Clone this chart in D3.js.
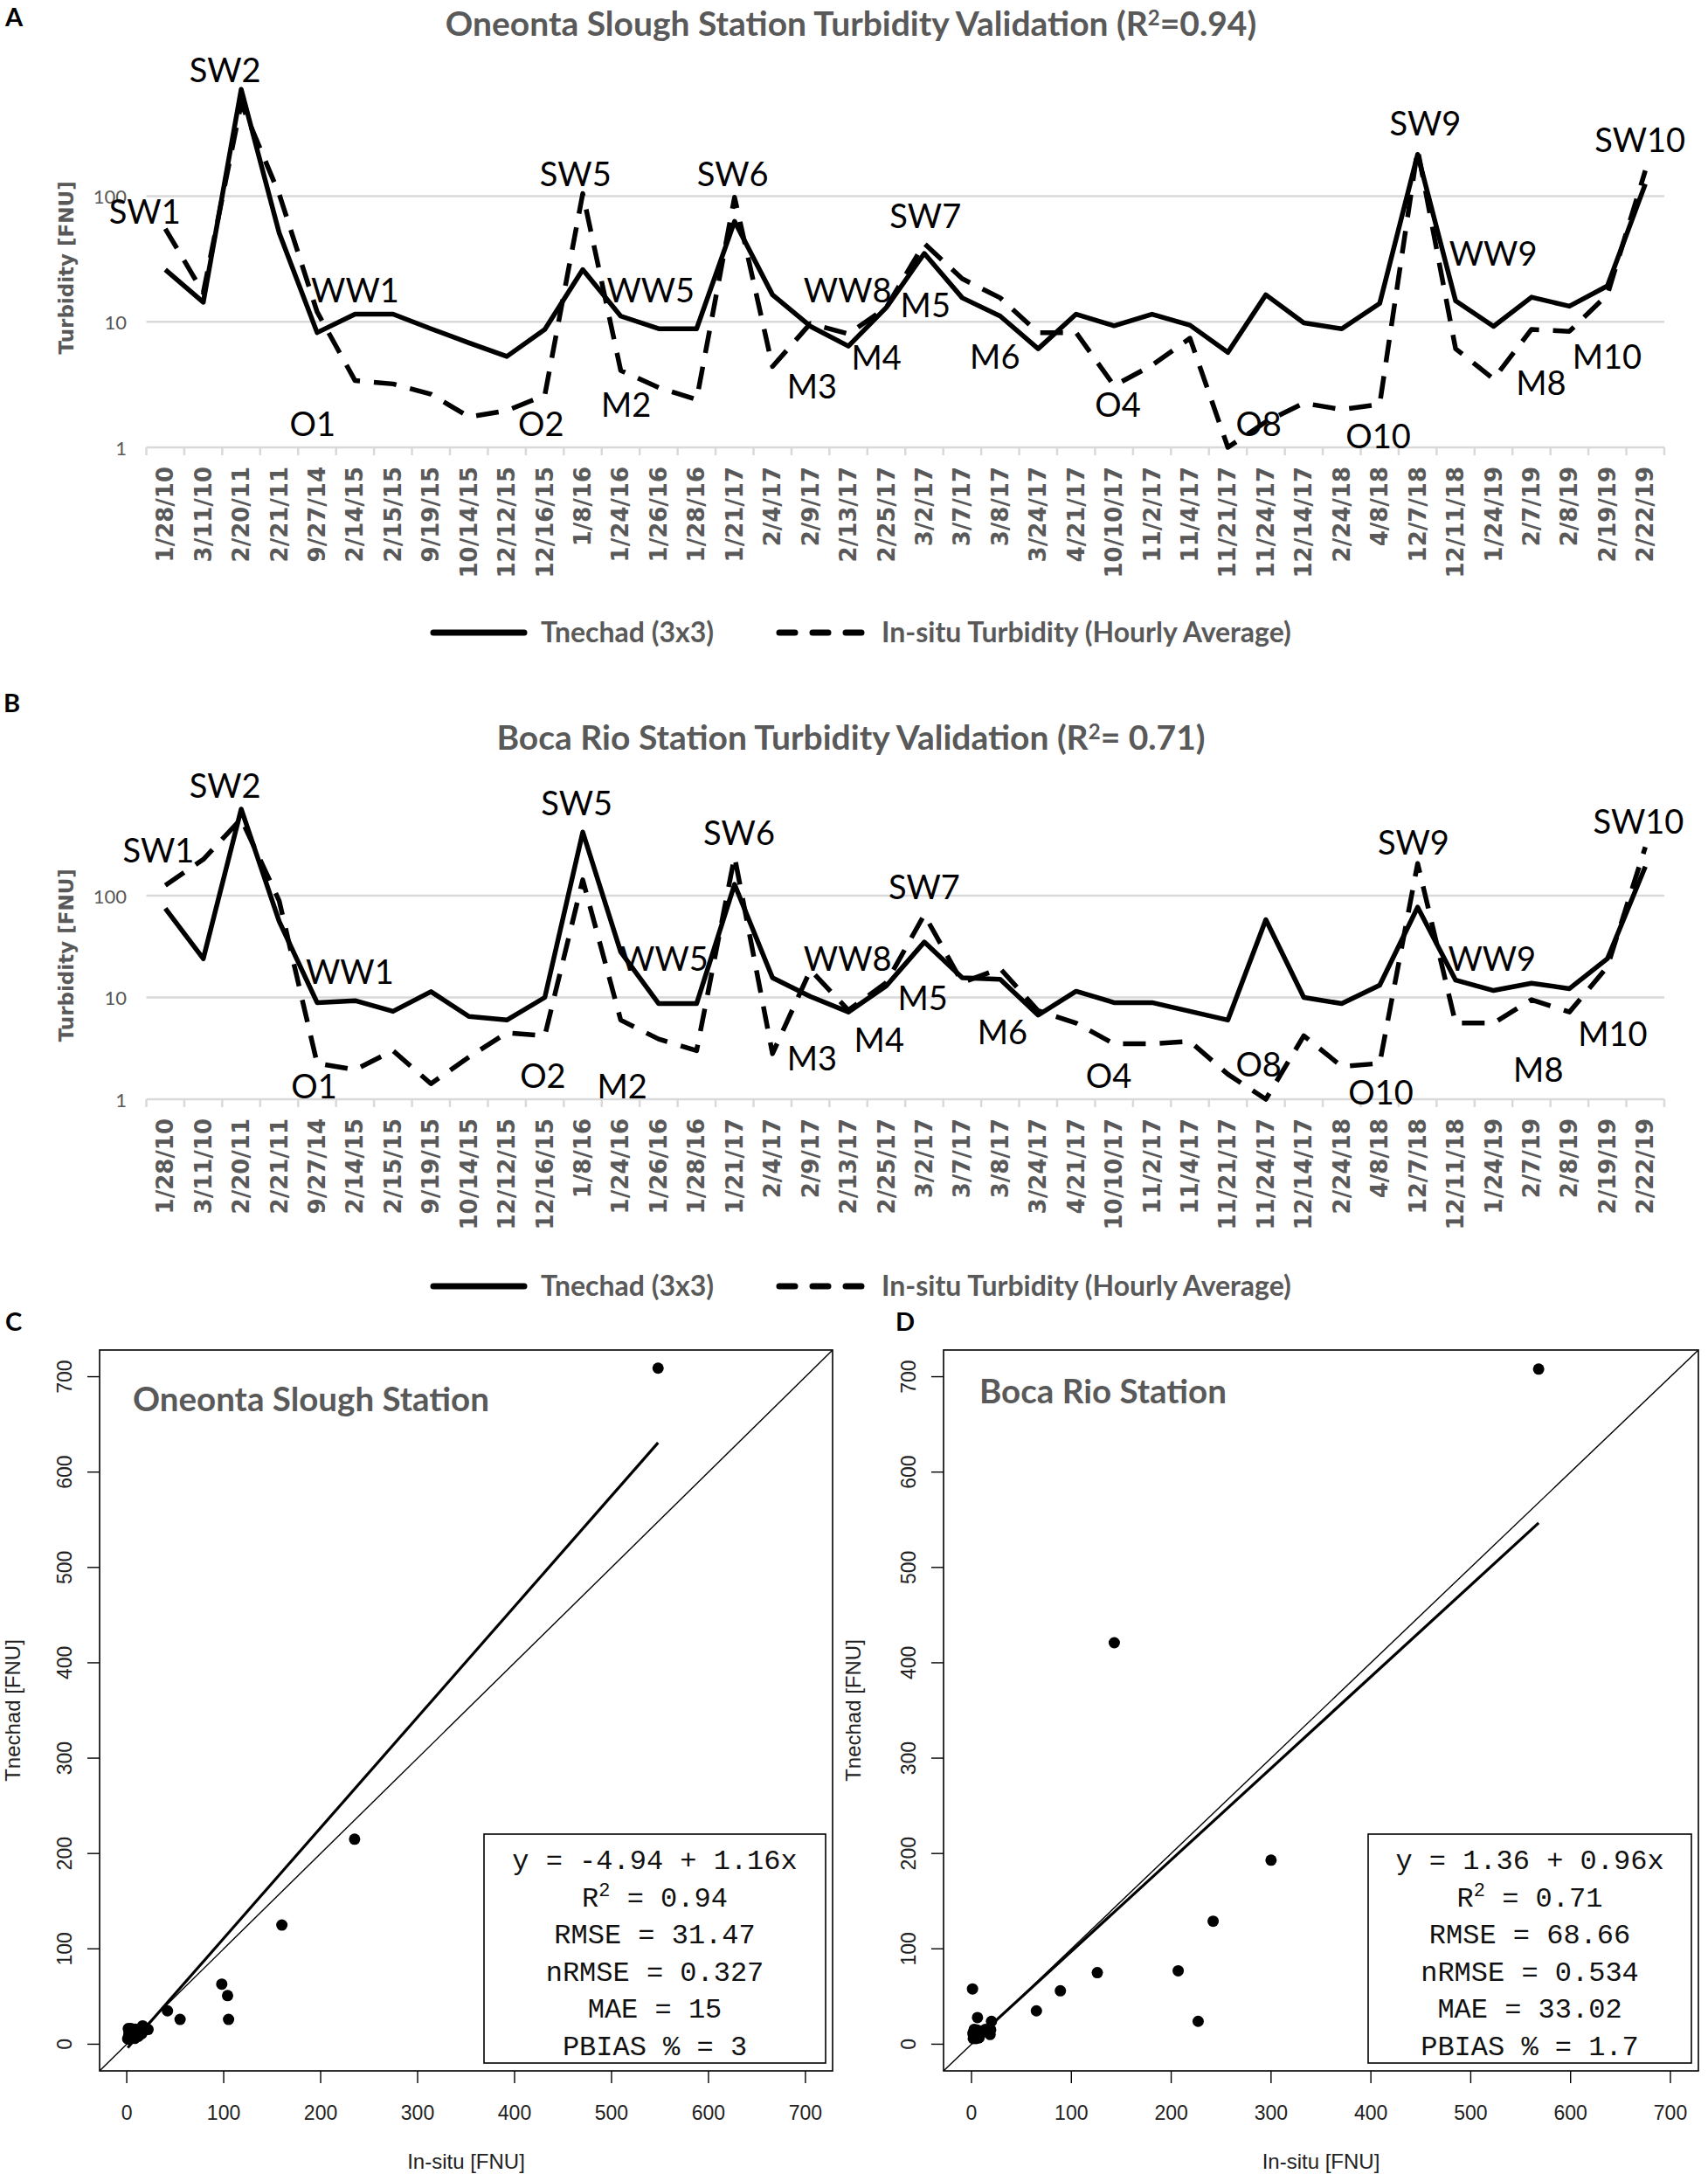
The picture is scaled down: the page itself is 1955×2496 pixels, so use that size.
<!DOCTYPE html>
<html>
<head>
<meta charset="utf-8">
<script src="https://cdn.jsdelivr.net/npm/d3@7"></script>
<style>
  body { margin: 0; background: #fff; }
</style>
</head>
<body>
<svg></svg>
<script>
// sampling dates shared by both stations
const dates = ["1/28/10","3/11/10","2/20/11","2/21/11","9/27/14","2/14/15","2/15/15","9/19/15","10/14/15","12/12/15",
  "12/16/15","1/8/16","1/24/16","1/26/16","1/28/16","1/21/17","2/4/17","2/9/17","2/13/17","2/25/17",
  "3/2/17","3/7/17","3/8/17","3/24/17","4/21/17","10/10/17","11/2/17","11/4/17","11/21/17","11/24/17",
  "12/14/17","2/24/18","4/8/18","12/7/18","12/11/18","1/24/19","2/7/19","2/8/19","2/19/19","2/22/19"];

// Oneonta Slough station
const oneontaTnechad = [26, 14.3, 709, 51, 8.2, 11.5, 11.5, 8.8, 6.8, 5.3,
  8.7, 26, 11.1, 8.8, 8.8, 63, 16.4, 9.2, 6.4, 13,
  35, 15.5, 11.1, 6.1, 11.5, 9.3, 11.5, 9.4, 5.7, 16.4,
  9.8, 8.8, 14, 215, 14.7, 9.2, 15.7, 13.3, 19.3, 125];
const oneontaInsitu = [55, 17, 548, 104, 12, 3.4, 3.2, 2.65, 1.75, 1.96,
  2.6, 105, 4.1, 3.0, 2.4, 98, 4.4, 9.7, 8, 13,
  42, 22, 15.5, 8.2, 8.2, 3.1, 4.5, 7.4, 1.0, 1.6,
  2.25, 2.0, 2.2, 235, 6.1, 3.5, 8.7, 8.4, 16.4, 160];

// Boca Rio station
const bocaTnechad = [75, 24, 708, 56, 8.9, 9.3, 7.3, 11.4, 6.5, 6.0,
  10, 421, 28, 8.7, 8.7, 129, 15.6, 10.2, 7.2, 13,
  35, 15.6, 15.1, 6.7, 11.5, 8.9, 8.9, 7.3, 6.0, 58,
  10, 8.7, 13.2, 77, 14.8, 11.7, 13.8, 12.2, 24, 193];
const bocaInsitu = [126, 227, 568, 89, 2.25, 1.95, 3.0, 1.42, 2.6, 4.5,
  4.2, 143, 6, 3.9, 3.0, 242, 2.8, 18.6, 7.5, 14,
  65, 14, 19.2, 7.4, 5.6, 3.5, 3.5, 3.7, 1.76, 1.0,
  4.2, 2.1, 2.25, 207, 5.6, 5.6, 9.5, 7.2, 20, 300];

// event labels: [text, date index, turbidity]
const oneontaLabels = [["SW1", -0.54, 74.6], ["SW2", 1.575, 997], ["WW1", 5.0, 17.8], ["O1", 3.88, 1.53],
  ["SW5", 10.81, 150], ["O2", 9.9, 1.53], ["WW5", 12.79, 17.8], ["M2", 12.14, 2.19], ["SW6", 14.95, 150],
  ["WW8", 17.98, 17.8], ["M3", 17.04, 3.05], ["M4", 18.74, 5.14], ["M5", 20.03, 13.5], ["SW7", 20.03, 68.7],
  ["M6", 21.86, 5.29], ["O4", 25.1, 2.19], ["O8", 28.81, 1.53], ["O10", 31.96, 1.23], ["SW9", 33.2, 380],
  ["WW9", 34.99, 34.5], ["M8", 36.25, 3.22], ["M10", 37.99, 5.29], ["SW10", 38.86, 280]];
const bocaLabels = [["SW1", -0.18, 279], ["SW2", 1.575, 1184], ["WW1", 4.86, 17.9], ["O1", 3.92, 1.32],
  ["SW5", 10.84, 804], ["O2", 9.95, 1.69], ["M2", 12.04, 1.32], ["WW5", 13.15, 23.8], ["SW6", 15.12, 412],
  ["WW8", 17.98, 23.8], ["M3", 17.04, 2.5], ["M4", 18.81, 3.81], ["M5", 19.96, 9.86], ["SW7", 20.0, 120],
  ["M6", 22.06, 4.54], ["O4", 24.86, 1.69], ["O8", 28.81, 2.17], ["O10", 32.03, 1.15], ["SW9", 32.89, 333],
  ["WW9", 34.96, 23.8], ["M8", 36.18, 1.95], ["M10", 38.14, 4.39], ["SW10", 38.82, 527]];

const yTicks = [1, 10, 100];
const scatterTicks = [0, 100, 200, 300, 400, 500, 600, 700];

// regression [intercept, slope] and stats
const oneontaFit = [-4.94, 1.16];
const bocaFit = [1.36, 0.96];
const oneontaStats = ["y = -4.94 + 1.16x", "R^2 = 0.94", "RMSE = 31.47", "nRMSE = 0.327", "MAE = 15", "PBIAS % = 3"];
const bocaStats = ["y = 1.36 + 0.96x", "R^2 = 0.71", "RMSE = 68.66", "nRMSE = 0.534", "MAE = 33.02", "PBIAS % = 1.7"];

const W = 1955, H = 2496;
const gray = '#595959';
const svg = d3.select('svg').attr('width', W).attr('height', H);
svg.append('rect').attr('width', W).attr('height', H).attr('fill', '#fff');

// text with a "^2" style superscript
function richText(sel, str, supSize, raise) {
    const parts = str.split('^');
    sel.append('tspan').text(parts[0]);
    if (parts.length > 1) {
        sel.append('tspan').attr('dy', -raise).style('font-size', supSize + 'px').text(parts[1][0]);
        sel.append('tspan').attr('dy', raise).text(parts[1].slice(1));
    }
}

function panelLetter(letter, x, y) {
    svg.append('text').attr('x', x).attr('y', y)
        .style('font-family', 'Lato').style('font-weight', 'bold').style('font-size', '29px')
        .attr('fill', '#000').text(letter);
}

function seriesPanel(p) {
    const g = svg.append('g');
    const x = d3.scaleLinear().domain([-0.5, dates.length - 0.5]).range([167.5, 1905]);
    const y = d3.scaleLog().domain([1, 1000]).range([p.bottom, p.top]);

    // gridlines (the one at 1 doubles as the axis line)
    g.append('g').selectAll('line').data(yTicks).join('line')
        .attr('x1', x.range()[0]).attr('x2', x.range()[1])
        .attr('y1', d => y(d)).attr('y2', d => y(d))
        .attr('stroke', '#d9d9d9').attr('stroke-width', 2.5);

    // category tick marks between dates
    g.append('g').selectAll('line').data(d3.range(dates.length + 1)).join('line')
        .attr('x1', d => x(d - 0.5)).attr('x2', d => x(d - 0.5))
        .attr('y1', p.bottom).attr('y2', p.bottom + 9)
        .attr('stroke', '#d9d9d9').attr('stroke-width', 2.5);

    g.append('g').selectAll('text').data(yTicks).join('text')
        .attr('x', 145).attr('y', d => y(d))
        .attr('text-anchor', 'end').attr('dominant-baseline', 'central')
        .style('font-family', 'Lato').style('font-size', '22px')
        .attr('fill', gray).text(d => d);

    g.append('text')
        .attr('transform', `translate(76,${(y(1) + y(1000)) / 2 + 10}) rotate(-90)`)
        .attr('text-anchor', 'middle').attr('dominant-baseline', 'central')
        .style('font-family', 'DejaVu Sans').style('font-weight', 'bold').style('font-size', '23px')
        .attr('fill', gray).text('Turbidity [FNU]');

    g.append('g').selectAll('text').data(dates).join('text')
        .attr('transform', (d, i) => `translate(${x(i)},${p.bottom + 22}) rotate(-90)`)
        .attr('text-anchor', 'end').attr('dominant-baseline', 'central')
        .style('font-family', 'DejaVu Sans').style('font-weight', 'bold').style('font-size', '26px')
        .attr('fill', gray).text(d => d);

    const line = d3.line().x((d, i) => x(i)).y(d => y(d));
    g.append('path').datum(p.tnechad).attr('d', line)
        .attr('fill', 'none').attr('stroke', '#000').attr('stroke-width', 5.5)
        .attr('stroke-linejoin', 'round');
    g.append('path').datum(p.insitu).attr('d', line)
        .attr('fill', 'none').attr('stroke', '#000').attr('stroke-width', 5.5)
        .attr('stroke-dasharray', '26 16').attr('stroke-linejoin', 'round');

    g.append('g').selectAll('text').data(p.labels).join('text')
        .attr('x', d => x(d[1])).attr('y', d => y(d[2]) + 13.5)
        .attr('text-anchor', 'middle')
        .style('font-family', 'Lato').style('font-size', '38px')
        .attr('fill', '#000').text(d => d[0]);

    const title = g.append('text').attr('x', 974).attr('y', p.titleY)
        .attr('text-anchor', 'middle')
        .style('font-family', 'Lato').style('font-weight', 'bold').style('font-size', '39px')
        .attr('fill', gray);
    richText(title, p.title, 24, 12);

    // legend
    const ly = p.legendY;
    g.append('line').attr('x1', 496).attr('x2', 600).attr('y1', ly).attr('y2', ly)
        .attr('stroke', '#000').attr('stroke-width', 7).attr('stroke-linecap', 'round');
    g.append('line').attr('x1', 892).attr('x2', 1000).attr('y1', ly).attr('y2', ly)
        .attr('stroke', '#000').attr('stroke-width', 7).attr('stroke-linecap', 'round')
        .attr('stroke-dasharray', '18 20');
    g.append('g').selectAll('text')
        .data([["Tnechad (3x3)", 619], ["In-situ Turbidity (Hourly Average)", 1009]]).join('text')
        .attr('x', d => d[1]).attr('y', ly + 11)
        .style('font-family', 'Lato').style('font-weight', 'bold').style('font-size', '32px')
        .attr('fill', gray).text(d => d[0]);
}

function scatterPanel(p) {
    const g = svg.append('g');
    const x = d3.scaleLinear().domain([-28, 728]).range([p.left, p.right]);
    const y = d3.scaleLinear().domain([-28, 728]).range([p.bottom, p.top]);
    const pts = p.insitu.map((v, i) => [v, p.tnechad[i]]);

    const clipId = 'clip-' + p.id;
    svg.append('clipPath').attr('id', clipId).append('rect')
        .attr('x', p.left).attr('y', p.top)
        .attr('width', p.right - p.left).attr('height', p.bottom - p.top);
    const inner = g.append('g').attr('clip-path', `url(#${clipId})`);

    // 1:1 line
    inner.append('line')
        .attr('x1', x(-28)).attr('y1', y(-28)).attr('x2', x(728)).attr('y2', y(728))
        .attr('stroke', '#000').attr('stroke-width', 1.4);

    // fitted line over the data range
    const xr = d3.extent(p.insitu);
    inner.append('line')
        .attr('x1', x(xr[0])).attr('y1', y(p.fit[0] + p.fit[1] * xr[0]))
        .attr('x2', x(xr[1])).attr('y2', y(p.fit[0] + p.fit[1] * xr[1]))
        .attr('stroke', '#000').attr('stroke-width', 3.2);

    inner.append('g').selectAll('circle').data(pts).join('circle')
        .attr('cx', d => x(d[0])).attr('cy', d => y(d[1])).attr('r', 6.5)
        .attr('fill', '#000');

    g.append('rect').attr('x', p.left).attr('y', p.top)
        .attr('width', p.right - p.left).attr('height', p.bottom - p.top)
        .attr('fill', 'none').attr('stroke', '#000').attr('stroke-width', 1.6);

    // axes
    const tickFont = sel => sel.style('font-family', 'Liberation Sans').style('font-size', '23px').attr('fill', '#222');
    g.append('g').selectAll('line').data(scatterTicks).join('line')
        .attr('x1', d => x(d)).attr('x2', d => x(d))
        .attr('y1', p.bottom).attr('y2', p.bottom + 14)
        .attr('stroke', '#000').attr('stroke-width', 1.4);
    g.append('g').selectAll('text').data(scatterTicks).join('text')
        .attr('x', d => x(d)).attr('y', p.bottom + 56)
        .attr('text-anchor', 'middle').call(tickFont).text(d => d);
    g.append('g').selectAll('line').data(scatterTicks).join('line')
        .attr('y1', d => y(d)).attr('y2', d => y(d))
        .attr('x1', p.left).attr('x2', p.left - 14)
        .attr('stroke', '#000').attr('stroke-width', 1.4);
    g.append('g').selectAll('text').data(scatterTicks).join('text')
        .attr('transform', d => `translate(${p.left - 40},${y(d)}) rotate(-90)`)
        .attr('text-anchor', 'middle').attr('dominant-baseline', 'central')
        .call(tickFont).text(d => d);

    g.append('text').attr('x', (p.left + p.right) / 2).attr('y', 2482)
        .attr('text-anchor', 'middle')
        .style('font-family', 'Liberation Sans').style('font-size', '24px').attr('fill', '#222')
        .text('In-situ [FNU]');
    g.append('text')
        .attr('transform', `translate(${p.yLabelX},${(p.top + p.bottom) / 2}) rotate(-90)`)
        .attr('text-anchor', 'middle').attr('dominant-baseline', 'central')
        .style('font-family', 'Liberation Sans').style('font-size', '24px').attr('fill', '#222')
        .text('Tnechad [FNU]');

    g.append('text').attr('x', p.titleX).attr('y', p.titleY)
        .style('font-family', 'Lato').style('font-weight', 'bold').style('font-size', '38.5px')
        .attr('fill', gray).text(p.title);

    // statistics box
    const bw = p.statsW, bh = 262;
    const bx = p.right - 8 - bw, by = p.bottom - 9 - bh;
    g.append('rect').attr('x', bx).attr('y', by).attr('width', bw).attr('height', bh)
        .attr('fill', '#fff').attr('stroke', '#000').attr('stroke-width', 1.6);
    p.stats.forEach((s, i) => {
        const t = g.append('text').attr('x', bx + bw / 2).attr('y', by + 40 + i * 42.6)
            .attr('text-anchor', 'middle')
            .style('font-family', 'Liberation Mono').style('font-size', '32px').attr('fill', '#111');
        richText(t, s, 22, 12);
    });
}

panelLetter('A', 6, 30);
seriesPanel({ tnechad: oneontaTnechad, insitu: oneontaInsitu, labels: oneontaLabels,
    top: 80.75, bottom: 512, titleY: 41, legendY: 724,
    title: 'Oneonta Slough Station Turbidity Validation (R^2=0.94)' });

panelLetter('B', 4, 815);
seriesPanel({ tnechad: bocaTnechad, insitu: bocaInsitu, labels: bocaLabels,
    top: 908.5, bottom: 1258, titleY: 858, legendY: 1472,
    title: 'Boca Rio Station Turbidity Validation (R^2= 0.71)' });

panelLetter('C', 6, 1523);
scatterPanel({ id: 'c', tnechad: oneontaTnechad, insitu: oneontaInsitu, fit: oneontaFit, stats: oneontaStats,
    left: 114, right: 953, top: 1545, bottom: 2370, statsW: 391, yLabelX: 14,
    title: 'Oneonta Slough Station', titleX: 152, titleY: 1615 });

panelLetter('D', 1025, 1523);
scatterPanel({ id: 'd', tnechad: bocaTnechad, insitu: bocaInsitu, fit: bocaFit, stats: bocaStats,
    left: 1080, right: 1944, top: 1545, bottom: 2370, statsW: 370, yLabelX: 976,
    title: 'Boca Rio Station', titleX: 1121, titleY: 1606 });
</script>
</body>
</html>
